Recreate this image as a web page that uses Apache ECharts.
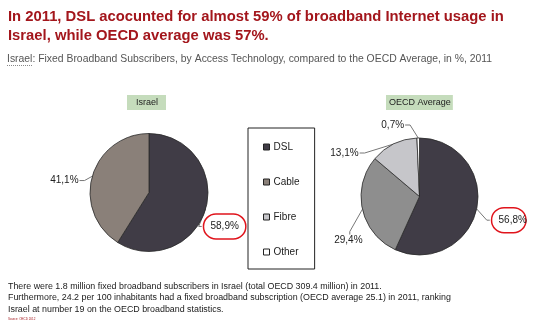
<!DOCTYPE html>
<html><head><meta charset="utf-8">
<script src="https://cdn.jsdelivr.net/npm/echarts@6/dist/echarts.min.js"></script>
<style>html,body{margin:0;padding:0;background:#fff}#c{width:538px;height:322px}</style>
</head><body><div id="c"></div>
<script>
var categories = ['DSL', 'Cable', 'Fibre', 'Other'];
var israelCategories = ['DSL', 'Cable'];
var israelValues = [58.9, 41.1];
var oecdValues = [56.8, 29.4, 13.1, 0.7];
var titleText = 'In 2011, DSL acocunted for almost 59% of broadband Internet usage in\nIsrael, while OECD average was 57%.';
var subtitleRest = ': Fixed Broadband Subscribers, by Access Technology, compared to the OECD Average, in %, 2011';
var footText = 'There were 1.8 million fixed broadband subscribers in Israel (total OECD 309.4 million) in 2011.\nFurthermore, 24.2 per 100 inhabitants had a fixed broadband subscription (OECD average 25.1) in 2011, ranking\nIsrael at number 19 on the OECD broadband statistics.';

var colorsIsrael = {DSL: '#403c46', Cable: '#8a8079', Fibre: '#c6c6ca', Other: '#ffffff'};
var colorsOecd = {DSL: '#403c46', Cable: '#8e8e8e', Fibre: '#c6c6ca', Other: '#ffffff'};
// label nudges (px) per series, by category; third entry: leader attaches to label top
var labelShift = [
  { DSL: [-19, 16], Cable: [3, 6] },
  { DSL: [-2, 10], Cable: [12, 30, 'top'], Fibre: [-17, 9], Other: [-3, -7] }
];
var seriesCats = [israelCategories, categories];

function fmt(v) { return v.toFixed(1).replace('.', ',') + '%'; }
function buildData(names, vals, colors) {
  return names.map(function (n, i) {
    var item = { name: n, value: vals[i], itemStyle: { color: colors[n] } };
    if (n === 'DSL') {
      item.label = { borderColor: '#e0141c', borderWidth: 1.5, borderRadius: 15, padding: [8, 7, 7, 7] };
    }
    return item;
  });
}
var FONT = 'Arial, "Liberation Sans", sans-serif';
var pieCommon = {
  type: 'pie',
  startAngle: 90,
  clockwise: true,
  animation: false,
  silent: true,
  itemStyle: { borderColor: '#2a2a2a', borderWidth: 0.8 },
  label: {
    show: true, position: 'outside', color: '#222', fontFamily: FONT, fontSize: 10, overflow: 'none',
    formatter: function (p) { return fmt(p.value); }
  },
  labelLine: { show: true, length: 6, length2: 6, lineStyle: { color: '#777', width: 1 } },
  labelLayout: function (p) {
    var name = seriesCats[p.seriesIndex][p.dataIndex];
    var s = labelShift[p.seriesIndex][name] || [0, 0];
    var res = { dx: s[0], dy: s[1] };
    var pts = p.labelLinePoints;
    if (pts && pts.length) {
      var r = p.labelRect;
      var x = r.x + s[0], y = r.y + s[1];
      var p0 = pts[0];
      var end, bend;
      if (s[2] === 'top') {
        end = [x + r.width * 0.55, y - 1];
        bend = [end[0], end[1] - 3];
      } else if (x + r.width / 2 > p0[0]) {
        end = [x - 1, y + r.height / 2];
        bend = [end[0] - 3, end[1]];
      } else {
        end = [x + r.width + 1, y + r.height / 2];
        bend = [end[0] + 5, end[1]];
      }
      res.labelLinePoints = [p0, bend, end];
    }
    return res;
  }
};

var chart = echarts.init(document.getElementById('c'), null, { renderer: 'canvas' });
chart.setOption({
  animation: false,
  title: [
    { text: titleText, left: 8, top: 7, padding: 0, textStyle: { color: '#a3161c', fontFamily: FONT, fontSize: 14.8, fontWeight: 'bold', lineHeight: 19 } },
    { text: 'Israel' + subtitleRest, left: 7, top: 53, padding: 0, textStyle: { color: '#555', fontFamily: FONT, fontSize: 10.4, fontWeight: 'normal', lineHeight: 12 } },
    { text: 'Israel', left: 127, top: 95, padding: [3, 8, 3, 9], backgroundColor: '#c5dcbc', textStyle: { color: '#222', fontFamily: FONT, fontSize: 9, fontWeight: 'normal' } },
    { text: 'OECD Average', left: 386, top: 95, padding: [3, 2, 3, 3], backgroundColor: '#c5dcbc', textStyle: { color: '#222', fontFamily: FONT, fontSize: 9, fontWeight: 'normal' } },
    { text: footText, left: 8, top: 280.5, padding: 0, textStyle: { color: '#1a1a1a', fontFamily: FONT, fontSize: 8.9, fontWeight: 'normal', lineHeight: 11.5 } },
    { text: 'Source: OECD 2012', left: 8, top: 318, padding: 0, textStyle: { color: '#a3161c', fontFamily: FONT, fontSize: 3, fontWeight: 'normal' } }
  ],
  legend: {
    orient: 'vertical', left: 248, top: 128,
    data: categories,
    itemWidth: 6, itemHeight: 6, itemGap: 25,
    padding: [14, 15, 12, 15],
    borderColor: '#222', borderWidth: 1,
    icon: 'rect',
    selectedMode: false,
    itemStyle: { borderColor: '#222', borderWidth: 1 },
    textStyle: { color: '#222', fontFamily: FONT, fontSize: 10, padding: [0, 0, 0, -1] }
  },
  graphic: [
    { type: 'line', shape: { x1: 7, y1: 65.5, x2: 33, y2: 65.5 }, style: { stroke: '#888', lineWidth: 1, lineDash: [1, 1] } }
  ],
  series: [
    Object.assign({}, pieCommon, { name: 'Israel', center: [149, 192.5], radius: 59, data: buildData(israelCategories, israelValues, colorsIsrael) }),
    Object.assign({}, pieCommon, { name: 'OECD Average', center: [419.5, 196.5], radius: 58.5, data: buildData(categories, oecdValues, colorsOecd) })
  ]
});
</script></body></html>
